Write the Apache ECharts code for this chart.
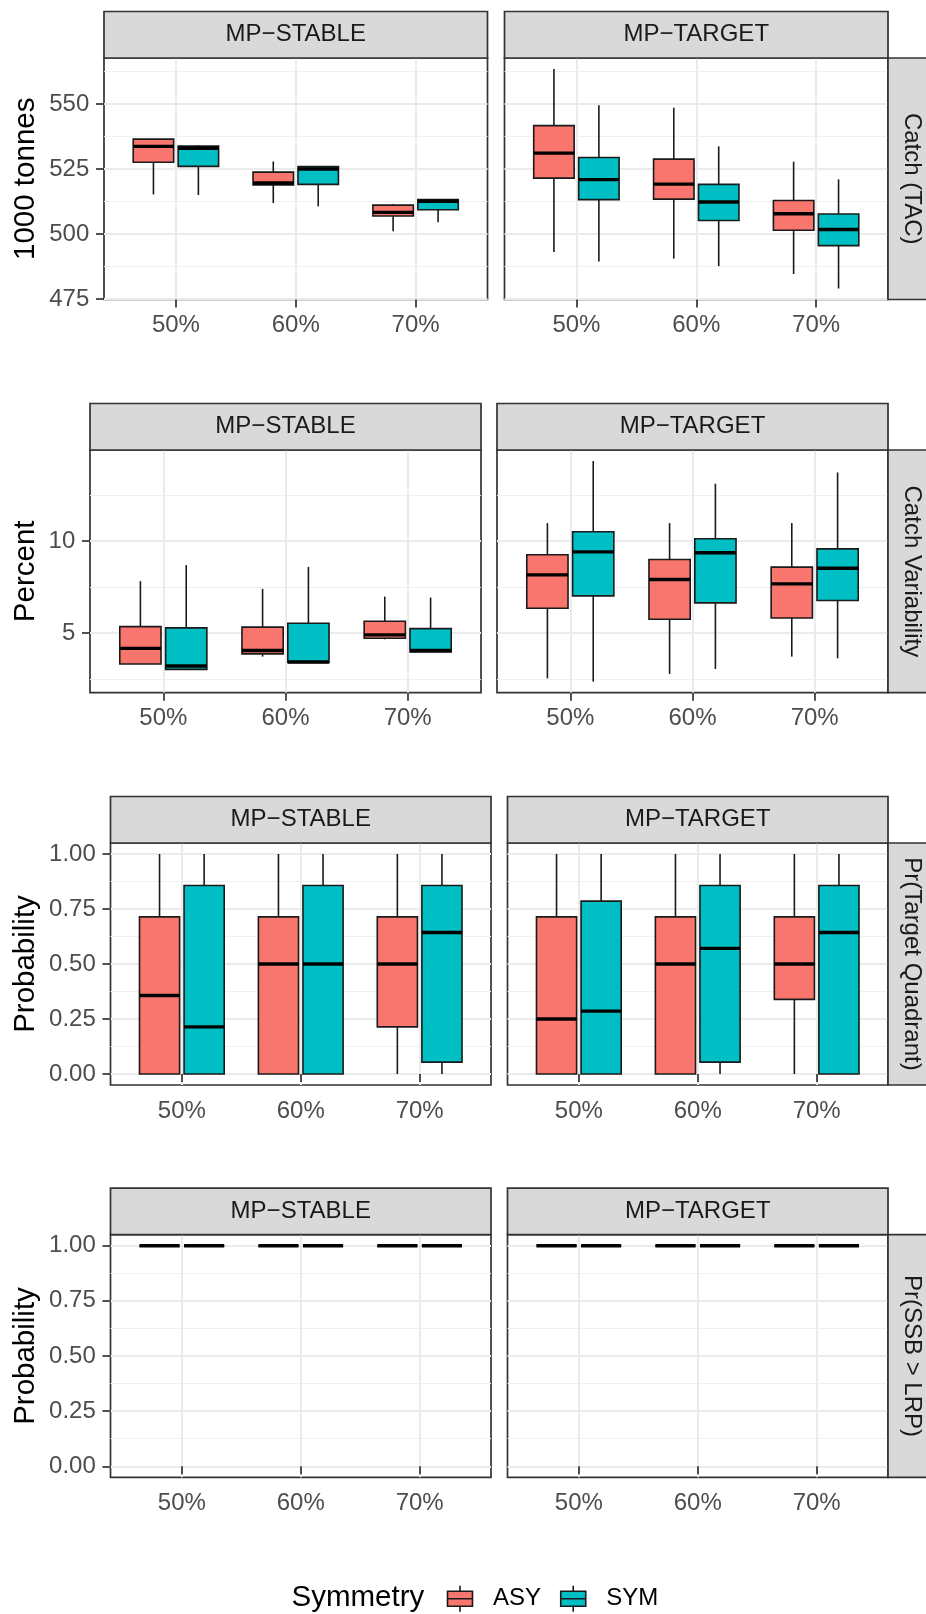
<!DOCTYPE html>
<html>
<head>
<meta charset="utf-8">
<script src="https://cdn.jsdelivr.net/npm/echarts@6/dist/echarts.min.js"></script>
<style>
  html, body { margin: 0; padding: 0; background: #fff; }
  #chart { width: 926px; height: 1614px; }
</style>
</head>
<body>
<div id="chart"></div>
<script>
// Management-procedure comparison: each box is [min, Q1, median, Q3, max] for one target level.
const categories = ['50%', '60%', '70%'];
const procedures = ['MP\u2212STABLE', 'MP\u2212TARGET'];
const metrics = ['Catch (TAC)', 'Catch Variability', 'Pr(Target Quadrant)', 'Pr(SSB > LRP)'];
const metricUnits = ['1000 tonnes', 'Percent', 'Probability', 'Probability'];
const symmetryLevels = ['ASY', 'SYM'];
const symmetryColors = ['#F8766D', '#00BFC4'];

// Catch (TAC), 1000 tonnes
const tacStableAsy = [[515.2, 527.6, 533.7, 536.5, 536.5], [511.9, 518.9, 519.6, 523.8, 527.9], [501.0, 506.9, 508.3, 511.1, 511.4]];
const tacStableSym = [[515.0, 526.0, 533.0, 533.8, 534.1], [510.6, 519.1, 525.0, 525.9, 525.9], [504.5, 509.3, 512.6, 513.2, 513.4]];
const tacTargetAsy = [[493.1, 521.5, 531.1, 541.7, 563.5], [490.5, 513.4, 519.2, 528.8, 548.6], [484.6, 501.4, 507.8, 512.9, 527.8]];
const tacTargetSym = [[489.4, 513.2, 520.9, 529.4, 549.5], [487.6, 505.2, 512.3, 519.1, 533.7], [479.0, 495.5, 501.7, 507.7, 521.0]];

// Catch variability, percent
const varStableAsy = [[3.33, 3.33, 4.18, 5.36, 7.83], [3.73, 3.88, 4.06, 5.33, 7.41], [4.67, 4.73, 4.91, 5.65, 6.99]];
const varStableSym = [[3.00, 3.04, 3.22, 5.29, 8.70], [3.41, 3.41, 3.44, 5.54, 8.60], [3.99, 3.99, 4.06, 5.25, 6.94]];
const varTargetAsy = [[2.55, 6.36, 8.17, 9.26, 10.98], [2.79, 5.76, 7.92, 9.00, 10.98], [3.73, 5.83, 7.68, 8.59, 10.98]];
const varTargetSym = [[2.37, 7.03, 9.42, 10.51, 14.35], [3.06, 6.65, 9.37, 10.13, 13.12], [3.64, 6.78, 8.53, 9.58, 13.73]];

// Probability of being in the target quadrant
const quadStableAsy = [[0, 0, 0.357, 0.714, 1], [0, 0, 0.5, 0.714, 1], [0, 0.214, 0.5, 0.714, 1]];
const quadStableSym = [[0, 0, 0.214, 0.857, 1], [0, 0, 0.5, 0.857, 1], [0, 0.054, 0.643, 0.857, 1]];
const quadTargetAsy = [[0, 0, 0.25, 0.714, 1], [0, 0, 0.5, 0.714, 1], [0, 0.339, 0.5, 0.714, 1]];
const quadTargetSym = [[0, 0, 0.286, 0.786, 1], [0, 0.054, 0.571, 0.857, 1], [0, 0, 0.643, 0.857, 1]];

// Probability that SSB stays above the limit reference point
const lrpStableAsy = [[1, 1, 1, 1, 1], [1, 1, 1, 1, 1], [1, 1, 1, 1, 1]];
const lrpStableSym = [[1, 1, 1, 1, 1], [1, 1, 1, 1, 1], [1, 1, 1, 1, 1]];
const lrpTargetAsy = [[1, 1, 1, 1, 1], [1, 1, 1, 1, 1], [1, 1, 1, 1, 1]];
const lrpTargetSym = [[1, 1, 1, 1, 1], [1, 1, 1, 1, 1], [1, 1, 1, 1, 1]];

// Axis breaks per metric row
const yTicks = [[475, 500, 525, 550], [5, 10], [0, 0.25, 0.5, 0.75, 1], [0, 0.25, 0.5, 0.75, 1]];
const yMinorTicks = [[487.5, 512.5, 537.5, 562.5], [2.5, 7.5, 12.5], [0.125, 0.375, 0.625, 0.875], [0.125, 0.375, 0.625, 0.875]];
const probabilityScale = [0, 1];

const panelData = [
  [[tacStableAsy, tacStableSym], [tacTargetAsy, tacTargetSym]],
  [[varStableAsy, varStableSym], [varTargetAsy, varTargetSym]],
  [[quadStableAsy, quadStableSym], [quadTargetAsy, quadTargetSym]],
  [[lrpStableAsy, lrpStableSym], [lrpTargetAsy, lrpTargetSym]]
];

// y range of a row: data extent (or the fixed probability scale) padded by 5% each side
function rowLimits(r) {
  let lo, hi;
  if (r >= 2) {
    lo = probabilityScale[0]; hi = probabilityScale[1];
  } else {
    const vals = panelData[r].flat(3);
    lo = Math.min(...vals); hi = Math.max(...vals);
  }
  const pad = (hi - lo) * 0.05;
  return [lo - pad, hi + pad];
}

// Page layout (pixels)
const rowLayout = [
  { top: 58, height: 241.5, lefts: [104, 504.5], width: 383.5 },
  { top: 450, height: 242.7, lefts: [90, 497], width: 391 },
  { top: 843, height: 242, lefts: [110.5, 507.5], width: 380.5 },
  { top: 1234.7, height: 242.6, lefts: [110.5, 507.5], width: 380.5 }
];
const STRIP = 46.5;
const FONT = 'Liberation Sans, Arial, sans-serif';
const SMALL = 24;
const LARGE = 29.5;
const EDGE = '#333333';
const BOX_WIDTH = 0.3375;
const DODGE = 0.1875;
const TITLE_RIGHT = 41;

function boxRenderer(offset, fill) {
  return function (params, api) {
    const x = api.value(0) + offset;
    const lo = api.coord([x, api.value(1)]);
    const q1 = api.coord([x, api.value(2)]);
    const md = api.coord([x, api.value(3)]);
    const q3 = api.coord([x, api.value(4)]);
    const hi = api.coord([x, api.value(5)]);
    const half = api.size([BOX_WIDTH, 0])[0] / 2;
    const line = { stroke: '#1a1a1a', lineWidth: 1.6 };
    return {
      type: 'group',
      children: [
        { type: 'line', shape: { x1: lo[0], y1: lo[1], x2: q1[0], y2: q1[1] }, style: line },
        { type: 'line', shape: { x1: q3[0], y1: q3[1], x2: hi[0], y2: hi[1] }, style: line },
        { type: 'rect', shape: { x: q1[0] - half, y: q3[1], width: half * 2, height: q1[1] - q3[1] },
          style: { fill: fill, stroke: '#1a1a1a', lineWidth: 1.6 } },
        { type: 'line', shape: { x1: md[0] - half, y1: md[1], x2: md[0] + half, y2: md[1] },
          style: { stroke: '#000', lineWidth: 3.4 } }
      ]
    };
  };
}

const grids = [], xAxes = [], yAxes = [], series = [], graphics = [];

metrics.forEach(function (metric, r) {
  const L = rowLayout[r];
  const lim = rowLimits(r);
  const fmt = r >= 2 ? (v => v.toFixed(2)) : (v => String(v));
  procedures.forEach(function (mp, c) {
    const g = r * 2 + c;
    const left = L.lefts[c];
    grids.push({
      left: left, top: L.top, width: L.width, height: L.height,
      show: true, backgroundColor: '#fff', borderColor: EDGE, borderWidth: 1.7
    });
    xAxes.push({
      type: 'value', gridIndex: g, min: 0.4, max: 3.6,
      axisLine: { show: false },
      axisTick: { show: true, customValues: [1, 2, 3], length: 8, lineStyle: { color: EDGE, width: 1.7 } },
      axisLabel: { customValues: [1, 2, 3], formatter: v => categories[Math.round(v) - 1],
        fontSize: SMALL, fontFamily: FONT, color: '#4d4d4d', margin: 14 },
      splitLine: { show: true, lineStyle: { color: '#ebebeb', width: 2 } }
    });
    yAxes.push({
      type: 'value', gridIndex: g, min: lim[0], max: lim[1], position: 'left',
      axisLine: { show: false },
      axisTick: { show: c === 0, customValues: yTicks[r], length: 8, lineStyle: { color: EDGE, width: 1.7 } },
      axisLabel: { show: c === 0, customValues: yTicks[r], formatter: fmt,
        fontSize: SMALL, fontFamily: FONT, color: '#4d4d4d', margin: 14.7 },
      splitLine: { show: true, lineStyle: { color: '#ebebeb', width: 2 } },
      name: c === 0 ? metricUnits[r] : '',
      nameLocation: 'middle', nameRotate: 90, nameGap: left - TITLE_RIGHT,
      nameTextStyle: { fontSize: LARGE, fontFamily: FONT, color: '#000' }
    });
    yAxes.push({
      type: 'value', gridIndex: g, min: lim[0], max: lim[1], position: 'left',
      axisLine: { show: false },
      axisTick: { show: false, customValues: yMinorTicks[r] },
      axisLabel: { show: false, customValues: yMinorTicks[r] },
      splitLine: { show: true, lineStyle: { color: '#f0f0f0', width: 1.1 } }
    });
    symmetryLevels.forEach(function (sym, s) {
      series.push({
        type: 'custom', name: sym, xAxisIndex: g, yAxisIndex: 2 * g, z: 10, silent: true,
        itemStyle: { color: symmetryColors[s] },
        encode: { x: 0, y: [1, 2, 3, 4, 5] },
        data: panelData[r][c][s].map((d, i) => [i + 1].concat(d)),
        renderItem: boxRenderer(s === 0 ? -DODGE : DODGE, symmetryColors[s])
      });
    });
    // facet strip above the panel
    graphics.push({
      type: 'rect', z: 5,
      shape: { x: left, y: L.top - STRIP, width: L.width, height: STRIP },
      style: { fill: '#d9d9d9', stroke: EDGE, lineWidth: 1.7 }
    });
    graphics.push({
      type: 'text', z: 6, x: left + L.width / 2, y: L.top - STRIP / 2,
      style: { text: mp, fontSize: SMALL, fontFamily: FONT, fill: '#1a1a1a', textAlign: 'center', textVerticalAlign: 'middle' }
    });
    if (c === 1) {
      // metric strip on the right side of the row
      graphics.push({
        type: 'rect', z: 5,
        shape: { x: left + L.width, y: L.top, width: STRIP, height: L.height },
        style: { fill: '#d9d9d9', stroke: EDGE, lineWidth: 1.7 }
      });
      graphics.push({
        type: 'text', z: 6, x: left + L.width + STRIP / 2, y: L.top + L.height / 2, rotation: -Math.PI / 2,
        style: { text: metric, fontSize: SMALL, fontFamily: FONT, fill: '#1a1a1a', textAlign: 'center', textVerticalAlign: 'middle' }
      });
    }
  });
});

// legend title
graphics.push({
  type: 'text', x: 291.5, y: 1597.5,
  style: { text: 'Symmetry', fontSize: LARGE, fontFamily: FONT, fill: '#000', textAlign: 'left', textVerticalAlign: 'middle' }
});

const chart = echarts.init(document.getElementById('chart'), null, { renderer: 'canvas' });
chart.setOption({
  animation: false,
  backgroundColor: '#fff',
  textStyle: { fontFamily: FONT },
  grid: grids,
  xAxis: xAxes,
  yAxis: yAxes,
  series: series,
  graphic: { elements: graphics },
  legend: {
    left: 446.7, top: 1585, padding: 0, orient: 'horizontal',
    itemWidth: 25, itemHeight: 26, itemGap: 18.8, selectedMode: false,
    icon: 'path://M0,5.5H25V20.5H0Z M12.5,0V5.5 M12.5,20.5V26 M0,13H25',
    data: symmetryLevels.map((sym, s) => ({
      name: sym,
      itemStyle: { color: symmetryColors[s], borderColor: '#1a1a1a', borderWidth: 1.6 }
    })),
    textStyle: { fontSize: SMALL, fontFamily: FONT, color: '#000', padding: [0, 0, 0, 15.6] }
  }
});
</script>
</body>
</html>
